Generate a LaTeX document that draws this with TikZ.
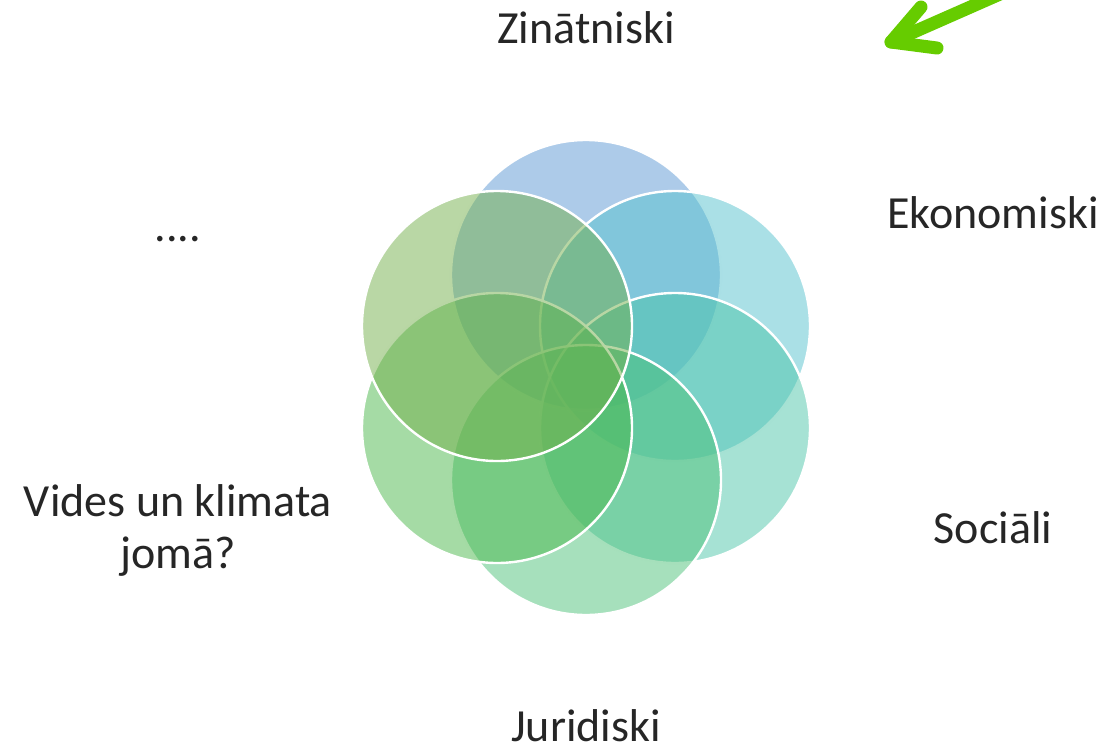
\documentclass[tikz,border=0pt]{standalone}
\usepackage{fontspec}
\setmainfont{Carlito}
\definecolor{cA}{RGB}{91,151,211}
\definecolor{cB}{RGB}{85,193,205}
\definecolor{cC}{RGB}{77,197,169}
\definecolor{cD}{RGB}{77,193,121}
\definecolor{cE}{RGB}{75,183,75}
\definecolor{cF}{RGB}{115,175,75}
\definecolor{arrowgreen}{RGB}{102,204,0}
\tikzset{
  venn/.style={circle, minimum size=270pt, inner sep=0pt, draw=white, line width=2.4pt, fill opacity=0.5},
  lbl/.style={font=\fontsize{46}{52}\selectfont, text=black!85, align=center, inner sep=0pt},
  scribble/.style={draw=arrowgreen, line width=13pt, line cap=round, line join=round}
}
\begin{document}
\begin{tikzpicture}[x=1pt, y=-1pt]
\useasboundingbox (0,0) rectangle (1119,745);
% circles
\node[venn, fill=cA] (c1) at (586,275) {};
\node[venn, fill=cB] (c2) at (675,326) {};
\node[venn, fill=cC] (c3) at (675,428) {};
\node[venn, fill=cD] (c4) at (586,480) {};
\node[venn, fill=cE] (c5) at (497,428) {};
\node[venn, fill=cF] (c6) at (497,326) {};
% labels
\node[lbl] (zin) at (586,28) {Zinātniski};
\node[lbl] (eko) at (993,213) {Ekonomiski};
\node[lbl] (soc) at (993,528) {Sociāli};
\node[lbl] (jur) at (586,726) {Juridiski};
\node[lbl] (dots) at (178,239) {....};
\node[lbl] (vid) at (178,530) {Vides un klimata\\jomā?};
% green hand-drawn arrow
\coordinate (tip) at (891,42);
\coordinate (tail) at (1000,-6);
\coordinate (armA) at (921,7);
\coordinate (armB) at (937,48);
\draw[scribble] (tail) -- (tip);
\draw[scribble] (armA) -- (tip) -- (armB);
\end{tikzpicture}
\end{document}
